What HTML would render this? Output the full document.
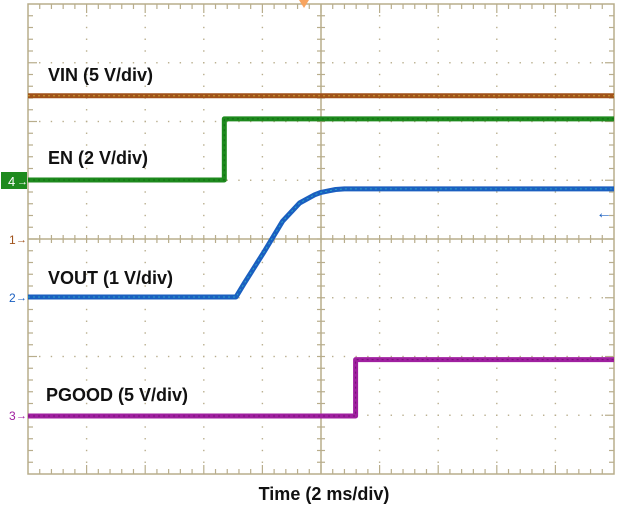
<!DOCTYPE html>
<html><head><meta charset="utf-8"><style>
html,body{margin:0;padding:0;background:#fff;width:621px;height:510px;overflow:hidden}
svg{display:block}
text{font-family:"Liberation Sans",Arial,sans-serif}
</style></head><body>
<svg id="chart" width="621" height="510" viewBox="0 0 621 510" xmlns="http://www.w3.org/2000/svg">
<g id="grid"></g>
<g id="traces"></g>
<g id="labels">
<text x="48" y="81" font-size="18" font-weight="bold" fill="#111">VIN (5 V/div)</text>
<text x="48" y="164" font-size="18" font-weight="bold" fill="#111">EN (2 V/div)</text>
<text x="48" y="284" font-size="18" font-weight="bold" fill="#111">VOUT (1 V/div)</text>
<text x="46" y="401" font-size="18" font-weight="bold" fill="#111">PGOOD (5 V/div)</text>
<text x="324" y="500" font-size="18" font-weight="bold" fill="#111" text-anchor="middle">Time (2 ms/div)</text>
</g>
<g id="markers">
<rect x="1" y="172" width="26" height="17" fill="#1e8a1e"/>
<text x="8" y="186" font-size="13" fill="#fff">4</text>
<text x="17" y="185" font-size="11" fill="#fff">→</text>
<text x="9" y="244" font-size="12" fill="#a0521a">1</text>
<text x="16" y="243" font-size="11" fill="#a0521a">→</text>
<text x="9" y="302" font-size="12" fill="#1a5fc0">2</text>
<text x="16" y="301" font-size="11" fill="#1a5fc0">→</text>
<text x="9" y="420" font-size="12" fill="#a020a0">3</text>
<text x="16" y="419" font-size="11" fill="#a020a0">→</text>
<text x="596" y="218" font-size="16" font-weight="bold" fill="#1a5fc0">←</text>
<polygon points="299,0 309,0 304,8" fill="#f7a460"/>
</g>
</svg>
<script>
// Time in ms (2 ms/div), voltages in V
var vinT = [0, 20];
var vinV = [12.2, 12.2];
var enT = [0, 6.7, 6.7, 20];
var enV = [0, 0, 2.08, 2.08];
var voutT = [0, 7.1, 7.39, 8.07, 8.69, 9.27, 9.78, 10.0, 10.29, 10.5, 10.8, 20];
var voutV = [0, 0, 0.24, 0.78, 1.29, 1.6, 1.74, 1.78, 1.81, 1.83, 1.84, 1.84];
var pgT = [0, 11.18, 11.18, 20];
var pgV = [0, 0, 4.8, 4.8];

var X0 = 28, X1 = 614, Y0 = 4, Y1 = 474, DIVX = (X1 - X0) / 10, DIVY = (Y1 - Y0) / 8;
function xs(t) { return X0 + t / 2 * DIVX; }
function ysFor(groundY, vPerDiv) { return function (v) { return groundY - v / vPerDiv * DIVY; }; }
var NS = "http://www.w3.org/2000/svg";
function mk(tag, attrs, parent) { var e = document.createElementNS(NS, tag); for (var k in attrs) e.setAttribute(k, attrs[k]); parent.appendChild(e); return e; }

var grid = document.getElementById('grid');
var gc = '#b8ad8c';
var frame = mk('rect', {x: X0, y: Y0, width: X1 - X0, height: Y1 - Y0, fill: 'none', stroke: gc, 'stroke-width': 1.5}, grid);


var cx = X0 + 5 * DIVX, cy = Y0 + 4 * DIVY;
mk('line', {x1: cx, y1: Y0, x2: cx, y2: Y1, stroke: gc, 'stroke-width': 1.5}, grid);
mk('line', {x1: X0, y1: cy, x2: X1, y2: cy, stroke: gc, 'stroke-width': 1.5}, grid);
for (var i = 1; i < 10; i++) for (var j = 1; j < 40; j++) {
  if (i === 5) continue;
  mk('rect', {x: X0 + i * DIVX - 0.7, y: Y0 + j * DIVY / 5 - 0.7, width: 1.4, height: 1.4, fill: gc}, grid);
}
for (var j = 1; j < 8; j++) for (var i = 1; i < 50; i++) {
  if (j === 4) continue;
  mk('rect', {x: X0 + i * DIVX / 5 - 0.7, y: Y0 + j * DIVY - 0.7, width: 1.4, height: 1.4, fill: gc}, grid);
}
for (var i = 1; i < 50; i++) {
  var x = X0 + i * DIVX / 5, L = (i % 5 === 0) ? 9 : 5;
  mk('line', {x1: x, y1: Y0, x2: x, y2: Y0 + L, stroke: gc, 'stroke-width': 1.2}, grid);
  mk('line', {x1: x, y1: Y1, x2: x, y2: Y1 - L, stroke: gc, 'stroke-width': 1.2}, grid);
  mk('line', {x1: x, y1: cy - 4, x2: x, y2: cy + 4, stroke: gc, 'stroke-width': 1.2}, grid);
}
for (var j = 1; j < 40; j++) {
  var y = Y0 + j * DIVY / 5, L = (j % 5 === 0) ? 9 : 5;
  mk('line', {x1: X0, y1: y, x2: X0 + L, y2: y, stroke: gc, 'stroke-width': 1.2}, grid);
  mk('line', {x1: X1, y1: y, x2: X1 - L, y2: y, stroke: gc, 'stroke-width': 1.2}, grid);
  mk('line', {x1: cx - 4, y1: y, x2: cx + 4, y2: y, stroke: gc, 'stroke-width': 1.2}, grid);
}

var traces = document.getElementById('traces');
function drawTrace(T, V, ys, color, hi, name) {
  var d = '';
  for (var k = 0; k < T.length; k++) d += (k ? 'L' : 'M') + xs(T[k]).toFixed(1) + ',' + ys(V[k]).toFixed(1);
  var p = mk('path', {d: d, fill: 'none', stroke: color, 'stroke-width': 5, 'stroke-linejoin': 'round'}, traces);
  
  
  mk('path', {d: d, fill: 'none', stroke: hi, 'stroke-width': 1, 'stroke-dasharray': '2 3', opacity: 0.7}, traces);
}
drawTrace(vinT, vinV, ysFor(cy, 5), '#a0521a', '#d8c040', 'vin-trace');
drawTrace(enT, enV, ysFor(180, 2), '#1e8a1e', '#0a5a0a', 'en-trace');
drawTrace(voutT, voutV, ysFor(297, 1), '#1a5fc0', '#30c0c8', 'vout-trace');
drawTrace(pgT, pgV, ysFor(416, 5), '#a020a0', '#601060', 'pgood-trace');
</script>
</body></html>
